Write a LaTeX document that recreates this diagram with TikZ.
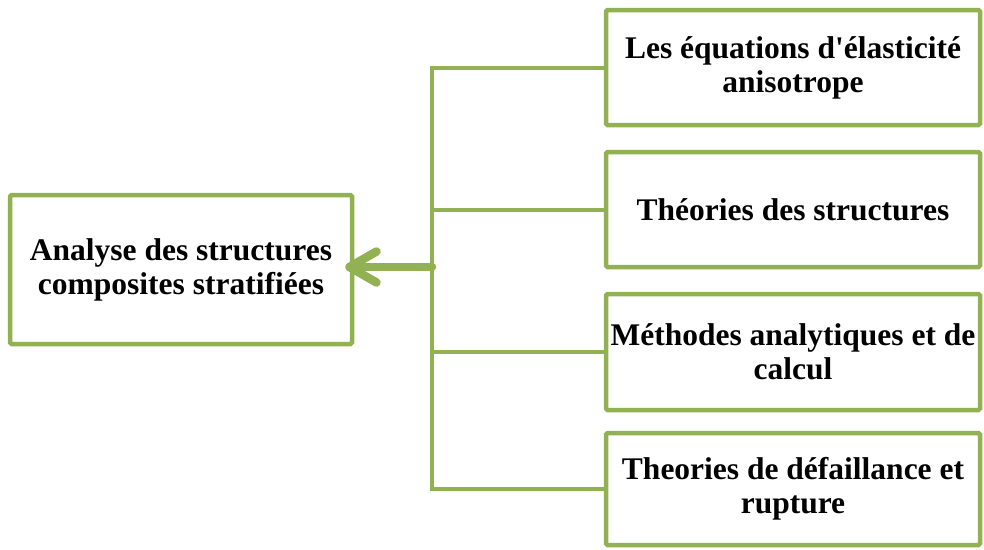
\documentclass[tikz,border=0pt]{standalone}
\usepackage{fontspec}
\setmainfont{Liberation Serif}
\usetikzlibrary{positioning,arrows.meta}
\definecolor{leaf}{RGB}{146,177,82}
\definecolor{ink}{RGB}{0,0,0}
\tikzset{
  topic/.style={draw=leaf, line width=4.5pt, rounded corners=1.5pt, fill=white, align=center,
                minimum width=374pt, minimum height=115pt, inner sep=0pt, text=ink,
                font=\fontsize{31.5}{34}\selectfont\bfseries},
  root/.style={topic, minimum width=342pt, minimum height=149pt},
  link/.style={draw=leaf, line width=4pt},
  bigarr/.style={-{Straight Barb[round, length=27pt, width=31pt]}, draw=leaf, line width=8.5pt,
                 line cap=round},
}
\begin{document}
\begin{tikzpicture}[x=1pt, y=-1pt, node distance=22.5pt]
  \useasboundingbox (0,0) rectangle (984,549);

  \node[topic] (eq) at (793,67.5) {Les équations d\textquotesingle élasticité\\anisotrope};
  \node[topic, below=of eq]  (theo) {Théories des structures};
  \node[topic, below=of theo, minimum height=116pt] (meth) {Méthodes analytiques et de\\calcul};
  \node[topic, below=18.5pt of meth, minimum height=112pt] (fail) {Theories de défaillance et\\rupture};

  \node[root] (anal) at (181,269.5) {Analyse des structures\\composites stratifiées};

  \coordinate (spine) at (432,267);

  \draw[link] (eq.west) -| (spine);
  \draw[link] (theo.west) -| (spine);
  \draw[link] (meth.west) -| (spine);
  \draw[link] (fail.west) -| (spine);

  \draw[bigarr, shorten >=-9pt] (spine) -- (anal.east |- spine);
\end{tikzpicture}
\end{document}
